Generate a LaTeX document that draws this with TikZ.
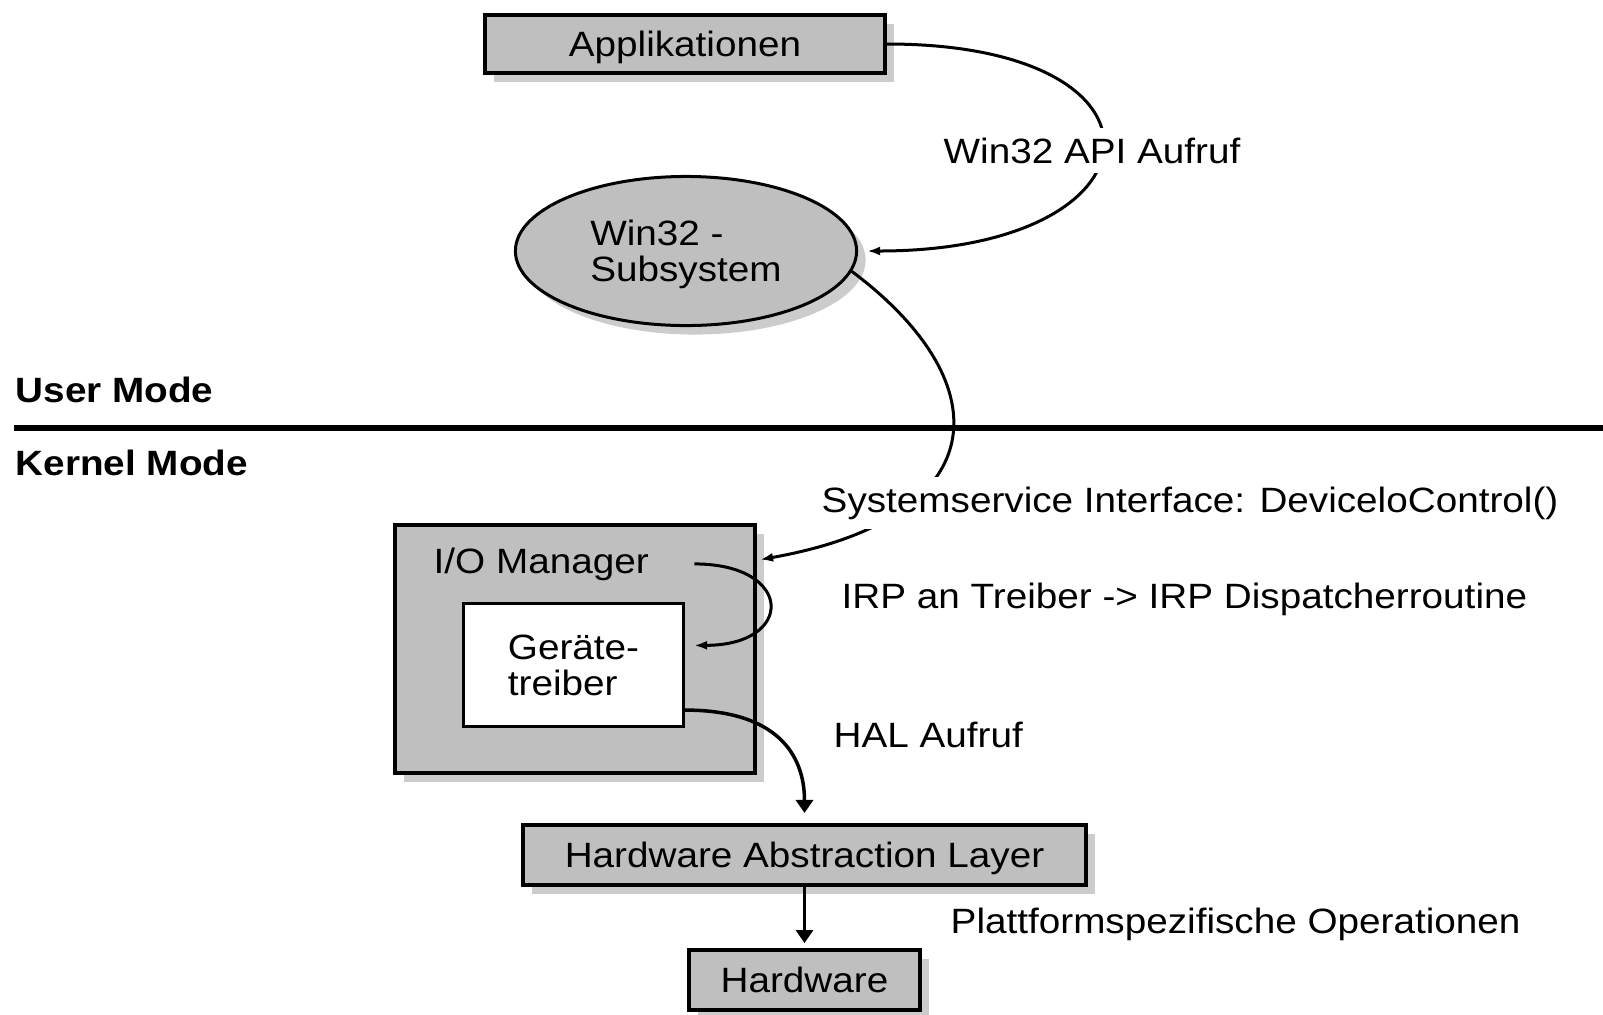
\documentclass[tikz,border=0pt]{standalone}
\usepackage{fontspec}
\setmainfont[FakeStretch=1.10]{Liberation Sans}
\usetikzlibrary{arrows.meta,positioning,calc,shadows,shapes.geometric}
\definecolor{boxgray}{gray}{0.75}
\definecolor{shadegray}{gray}{0.80}

\begin{document}
\begin{tikzpicture}[x=0.01cm,y=-0.01cm,font=\fontsize{10}{10.2}\selectfont,
  box/.style={draw,line width=0.4mm,fill=boxgray,inner sep=0pt,
    drop shadow={shadow xshift=0.9mm,shadow yshift=-0.9mm,fill=shadegray,opacity=1}},
  bar/.style={box,text height=2.5mm,text depth=0pt},
  lbl/.style={inner sep=0pt,anchor=base west},
  mode/.style={lbl,font=\fontsize{10}{10.2}\selectfont\bfseries},
  cut/.style={lbl,fill=white,inner xsep=0pt,inner ysep=1mm},
  conn/.style={line width=0.3mm,-{Latex[length=1.3mm,width=0.9mm]}},
  down/.style={line width=0.35mm,-{Triangle[length=1.3mm,width=1.7mm]}}]
  \useasboundingbox (0,0) rectangle (1603,1014);

  % user mode
  \node[bar,minimum width=4cm,minimum height=5.8mm] (app) at (685,44) {Applikationen};
  \node[box,ellipse,line width=0.3mm,minimum width=3.41cm,minimum height=1.49cm,
    align=left,text depth=0pt] (win) at (686,251) {Win32 -\\Subsystem};

  % mode boundary
  \node[mode] (um) at (15,402) {User Mode};
  \node[mode] (km) at (15,475) {Kernel Mode};
  \draw[line width=0.6mm] (14,428) -- (1603,428);

  % kernel mode
  \node[box,minimum width=3.6cm,minimum height=2.48cm] (io) at (575,649) {};
  \node[lbl] (iolbl) at (433,573) {I/O Manager};
  \node[draw,line width=0.3mm,fill=white,minimum width=2.2cm,minimum height=1.23cm,
    inner sep=0pt,align=left,text depth=0pt] (drv) at (573.5,665) {Geräte-\\treiber};
  \node[bar,minimum width=5.63cm,minimum height=6mm] (hal) at (804.5,855) {Hardware Abstraction Layer};
  \node[bar,minimum width=2.31cm,minimum height=6mm,below=6.1mm of hal] (hw) {Hardware};

  % calls
  \draw[conn,shorten >=0.9mm] (app.east) .. controls +(300,0) and +(310,0) .. (win.east);
  \draw[conn,shorten >=0.3mm] (win.-7.5) .. controls +(152,114) and +(236,-42) .. (io.26);
  \draw[conn,shorten >=0.9mm] ($(iolbl.east)+(45,0)$) .. controls +(100,0) and +(110,0) .. (drv.10);
  \draw[down,shorten >=1mm] (drv.-22) .. controls +(90,0) and +(0,-70) .. (hal.north);
  \draw[down,shorten >=0.5mm] (hal) -- (hw);

  \node[cut] (apilbl) at (943,163) {Win32 API Aufruf};
  \node[cut] (syslbl) at (821,512) {Systemservice Interface: DeviceloControl()};
  \node[lbl] (irplbl) at (841,608) {IRP an Treiber -> IRP Dispatcherroutine};
  \node[lbl] (hallbl) at (833,747) {HAL Aufruf};
  \node[lbl] (plolbl) at (950,933) {Plattformspezifische Operationen};
\end{tikzpicture}
\end{document}
